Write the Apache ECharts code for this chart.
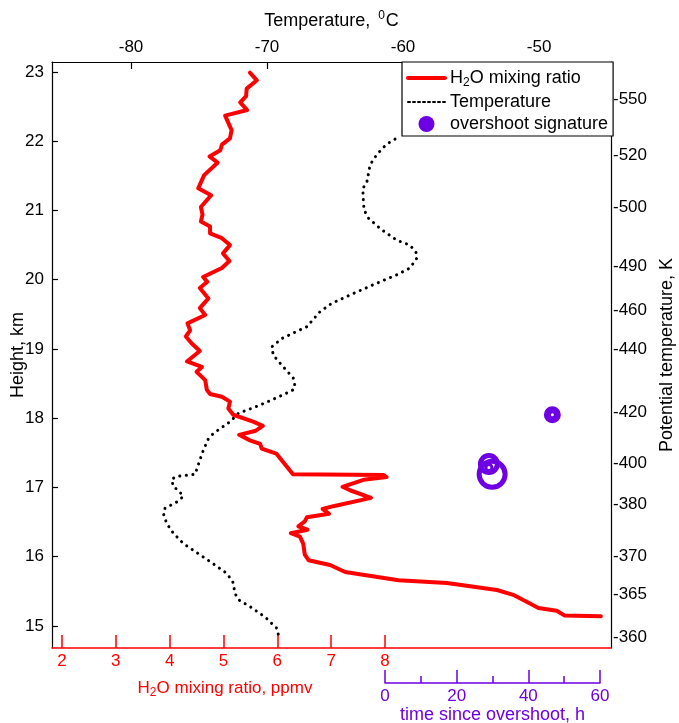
<!DOCTYPE html>
<html>
<head>
<meta charset="utf-8">
<script src="https://cdn.jsdelivr.net/npm/echarts@6/dist/echarts.min.js"></script>
<style>
html,body{margin:0;padding:0;background:#fff;}
#chart{width:679px;height:723px;}
</style>
</head>
<body>
<div id="chart"></div>
<script>
// ---------------- data ----------------
var h2oHeight = [22.99, 22.88, 22.76, 22.65, 22.56, 22.45, 22.37, 22.16, 22.04, 21.95, 21.87, 21.78, 21.69, 21.51, 21.32, 21.22, 21.05, 20.94, 20.84, 20.77, 20.67, 20.60, 20.50, 20.38, 20.27, 20.17, 20.04, 19.97, 19.88, 19.73, 19.59, 19.49, 19.37, 19.27, 19.18, 19.08, 18.97, 18.82, 18.74, 18.67, 18.55, 18.41, 18.35, 18.31, 18.24, 18.14, 18.05, 17.95, 17.89, 17.82, 17.76, 17.68, 17.63, 17.56, 17.49, 17.19, 17.18, 17.15, 17.11, 17.01, 16.96, 16.85, 16.73, 16.69, 16.62, 16.57, 16.51, 16.44, 16.39, 16.34, 16.29, 16.19, 16.03, 15.95, 15.88, 15.78, 15.66, 15.62, 15.52, 15.45, 15.35, 15.26, 15.22, 15.15, 15.14];
var h2oPpmv = [5.49, 5.62, 5.43, 5.42, 5.31, 5.44, 5.03, 5.15, 5.12, 4.97, 4.94, 4.74, 4.89, 4.64, 4.53, 4.77, 4.58, 4.61, 4.58, 4.75, 4.75, 4.97, 5.12, 4.99, 5.11, 4.97, 4.62, 4.70, 4.56, 4.72, 4.56, 4.66, 4.33, 4.38, 4.30, 4.41, 4.56, 4.32, 4.60, 4.50, 4.66, 4.69, 4.75, 4.97, 5.12, 5.09, 5.18, 5.55, 5.73, 5.60, 5.29, 5.49, 5.68, 5.71, 5.98, 6.29, 7.97, 8.03, 7.60, 7.21, 7.35, 7.74, 7.04, 6.84, 6.96, 6.55, 6.51, 6.39, 6.56, 6.25, 6.42, 6.48, 6.51, 6.58, 6.98, 7.26, 8.25, 9.15, 10.08, 10.38, 10.63, 10.85, 11.19, 11.34, 12.01];

var tempHeight = [22.03, 21.98, 21.91, 21.83, 21.74, 21.65, 21.40, 21.32, 21.15, 21.01, 20.89, 20.74, 20.57, 20.50, 20.38, 20.31, 20.17, 20.07, 19.97, 19.78, 19.66, 19.54, 19.32, 19.23, 19.15, 19.03, 18.91, 18.74, 18.58, 18.46, 18.41, 18.34, 18.19, 18.07, 17.95, 17.78, 17.70, 17.54, 17.40, 17.19, 17.16, 17.12, 17.01, 16.96, 16.87, 16.79, 16.70, 16.63, 16.48, 16.34, 16.19, 16.06, 15.93, 15.76, 15.64, 15.47, 15.38, 15.28, 15.13, 14.97, 14.84];
var tempC = [-60.59, -61.01, -61.45, -61.82, -62.18, -62.43, -62.67, -62.96, -62.92, -62.87, -62.55, -61.69, -60.46, -59.49, -58.99, -58.99, -59.49, -60.46, -61.69, -63.90, -65.24, -66.10, -67.08, -68.07, -68.92, -69.65, -69.54, -68.80, -68.07, -67.94, -68.07, -68.80, -70.51, -72.11, -72.72, -73.95, -74.32, -74.68, -74.93, -75.29, -76.64, -77.01, -76.89, -76.52, -76.15, -76.64, -77.50, -77.63, -77.38, -76.89, -76.15, -75.17, -74.19, -72.96, -72.52, -72.35, -72.11, -71.25, -70.15, -69.29, -69.12];

var overshootTime = [46.7, 29.9, 29.0, 29.0];
var overshootHeight = [18.05, 17.19, 17.34, 17.29];

var heightTicks = [15, 16, 17, 18, 19, 20, 21, 22, 23];
var tempTicks = [-80, -70, -60, -50];
var h2oTicks = [2, 3, 4, 5, 6, 7, 8];
var thetaLabels = ['-550', '-520', '-500', '-490', '-460', '-440', '-420', '-400', '-380', '-370', '-365', '-360'];
var thetaHeights = [22.61, 21.79, 21.05, 20.20, 19.56, 18.99, 18.09, 17.35, 16.75, 16.00, 15.46, 14.84];

// ---------------- layout / style ----------------
var FONT = 'Liberation Sans, Arial, sans-serif';
var PURPLE = '#6e00e4';
var RED = '#ff0000';
var H_MIN = 14.682, H_MAX = 23.144;
var T_MIN = -85.81, T_MAX = -44.71;
var W_MIN = 1.814, W_MAX = 12.198;
var S_MIN = -92.94, S_MAX = 63.07;
var TICK_FS = 17, TITLE_FS = 18;
var markerStyle = [
  {size: 10, border: 7},
  {size: 26, border: 5},
  {size: 17, border: 5},
  {size: 6, border: 3}
];

function zip(a, b) { return a.map(function (v, i) { return [v, b[i]]; }); }

var chart = echarts.init(document.getElementById('chart'), null, {renderer: 'canvas'});

var option = {
  animation: false,
  backgroundColor: '#fff',
  textStyle: {fontFamily: FONT},
  grid: [
    {left: 52, top: 62, width: 559, height: 586, containLabel: false, outerBoundsMode: 'none'},
    {left: 385, top: 682, width: 215, height: 1, containLabel: false, outerBoundsMode: 'none'}
  ],
  legend: {
    left: 402, top: 62,
    orient: 'vertical',
    backgroundColor: '#fff',
    borderColor: '#000',
    borderWidth: 1.2,
    padding: [7, 5, 3, 4],
    itemWidth: 37, itemHeight: 16, itemGap: 4,
    selectedMode: false,
    textStyle: {
      fontFamily: FONT, fontSize: TITLE_FS, color: '#000',
      rich: {
        n: {fontFamily: FONT, fontSize: TITLE_FS, color: '#000'},
        s: {fontFamily: FONT, fontSize: 12, color: '#000', padding: [10, 0, 0, 0]}
      }
    },
    formatter: function (name) {
      if (name === 'H2O mixing ratio') return '{n|H}{s|2}{n|O mixing ratio}';
      return name;
    },
    data: [
      {name: 'H2O mixing ratio', lineStyle: {width: 4, color: RED, cap: 'round'}, itemStyle: {color: 'rgba(0,0,0,0)', borderWidth: 0, opacity: 0}},
      {name: 'Temperature', lineStyle: {width: 2, type: [2, 3], color: '#000'}, itemStyle: {color: 'rgba(0,0,0,0)', borderWidth: 0, opacity: 0}},
      {name: 'overshoot signature', icon: 'circle', itemStyle: {color: PURPLE, borderWidth: 0, opacity: 1}}
    ]
  },
  xAxis: [
    { // temperature (top)
      type: 'value', gridIndex: 0, position: 'top',
      min: T_MIN, max: T_MAX,
      name: '{a|Temperature, }{b|0}{a|C}',
      nameLocation: 'middle', nameGap: 30,
      nameTextStyle: {
        rich: {
          a: {fontFamily: FONT, fontSize: TITLE_FS, color: '#000'},
          b: {fontFamily: FONT, fontSize: 12, color: '#000', padding: [0, 1, 10, 3]}
        }
      },
      axisLine: {show: true, onZero: false, lineStyle: {color: '#000', width: 1.2}},
      axisTick: {show: true, inside: true, length: 7, customValues: tempTicks, lineStyle: {color: '#000', width: 1.2}},
      axisLabel: {show: true, customValues: tempTicks, margin: 6, fontSize: TICK_FS, color: '#000', fontFamily: FONT},
      splitLine: {show: false}
    },
    { // H2O (bottom)
      type: 'value', gridIndex: 0, position: 'bottom',
      min: W_MIN, max: W_MAX,
      axisLine: {show: true, onZero: false, lineStyle: {color: RED, width: 1.5}},
      axisTick: {show: true, inside: true, length: 13, customValues: h2oTicks, lineStyle: {color: RED, width: 1.5}},
      axisLabel: {show: true, customValues: h2oTicks, margin: 5, fontSize: TICK_FS, color: RED, fontFamily: FONT},
      splitLine: {show: false}
    },
    { // time (hidden, data mapping in main grid)
      type: 'value', gridIndex: 0, position: 'bottom', show: false,
      min: S_MIN, max: S_MAX
    },
    { // time (visible axis)
      type: 'value', gridIndex: 1, position: 'bottom',
      min: 0, max: 60, interval: 20,
      name: 'time since overshoot, h',
      nameLocation: 'middle', nameGap: 23,
      nameTextStyle: {fontFamily: FONT, fontSize: TITLE_FS, color: PURPLE},
      axisLine: {show: true, onZero: false, lineStyle: {color: PURPLE, width: 1.5}},
      axisTick: {show: true, inside: true, length: 13, lineStyle: {color: PURPLE, width: 1.5}},
      minorTick: {show: true, splitNumber: 2, length: 7, lineStyle: {color: PURPLE, width: 1.5}},
      axisLabel: {show: true, margin: 5, fontSize: TICK_FS, color: PURPLE, fontFamily: FONT},
      splitLine: {show: false}
    }
  ],
  yAxis: [
    { // height (left)
      type: 'value', gridIndex: 0, position: 'left',
      min: H_MIN, max: H_MAX,
      name: 'Height, km', nameLocation: 'middle', nameGap: 25, nameRotate: 90,
      nameMoveOverlap: false,
      nameTextStyle: {fontFamily: FONT, fontSize: TITLE_FS, color: '#000'},
      axisLine: {show: true, onZero: false, lineStyle: {color: '#000', width: 1.2}},
      axisTick: {show: true, inside: true, length: 6, customValues: heightTicks, lineStyle: {color: '#000', width: 1.2}},
      axisLabel: {show: true, customValues: heightTicks, margin: 8, fontSize: TICK_FS, color: '#000', fontFamily: FONT},
      splitLine: {show: false}
    },
    { // potential temperature (right)
      type: 'value', gridIndex: 0, position: 'right',
      min: H_MIN, max: H_MAX,
      name: 'Potential temperature, K', nameLocation: 'middle', nameGap: 47, nameRotate: 90,
      nameMoveOverlap: false,
      nameTextStyle: {fontFamily: FONT, fontSize: TITLE_FS, color: '#000'},
      axisLine: {show: true, onZero: false, lineStyle: {color: '#000', width: 1.2}},
      axisTick: {show: false},
      axisLabel: {
        show: true, customValues: thetaHeights, margin: 2, fontSize: TICK_FS, color: '#000', fontFamily: FONT,
        formatter: function (v) {
          var best = 0, bd = 1e9;
          for (var i = 0; i < thetaHeights.length; i++) {
            var d = Math.abs(thetaHeights[i] - v);
            if (d < bd) { bd = d; best = i; }
          }
          return thetaLabels[best];
        }
      },
      splitLine: {show: false}
    },
    {
      type: 'value', gridIndex: 1, show: false, min: 0, max: 1
    }
  ],
  graphic: [
    {
      type: 'text',
      x: 225, y: 688,
      style: {
        text: '{a|H}{s|2}{a|O mixing ratio, ppmv}',
        align: 'center', verticalAlign: 'middle',
        rich: {
          a: {fontFamily: FONT, fontSize: TICK_FS, fill: RED, color: RED},
          s: {fontFamily: FONT, fontSize: 12, fill: RED, color: RED, padding: [10, 0, 0, 0]}
        }
      }
    }
  ],
  series: [
    {
      name: 'H2O mixing ratio',
      type: 'line',
      xAxisIndex: 1, yAxisIndex: 0,
      data: zip(h2oPpmv, h2oHeight),
      symbol: 'none', showSymbol: false,
      clip: false,
      lineStyle: {color: RED, width: 4, join: 'round', cap: 'round'},
      itemStyle: {color: RED},
      z: 3
    },
    {
      name: 'Temperature',
      type: 'line',
      xAxisIndex: 0, yAxisIndex: 0,
      data: zip(tempC, tempHeight),
      symbol: 'none', showSymbol: false,
      clip: false,
      lineStyle: {color: '#000', width: 3, type: [0.1, 6.5], cap: 'round'},
      itemStyle: {color: '#000'},
      z: 2
    },
    {
      name: 'overshoot signature',
      type: 'scatter',
      xAxisIndex: 2, yAxisIndex: 0,
      data: overshootTime.map(function (t, i) {
        return {
          value: [t, overshootHeight[i]],
          symbolSize: markerStyle[i].size,
          itemStyle: {color: 'rgba(0,0,0,0)', borderColor: PURPLE, borderWidth: markerStyle[i].border, opacity: 1}
        };
      }),
      symbol: 'circle',
      itemStyle: {color: PURPLE, opacity: 1},
      z: 4
    }
  ]
};

chart.setOption(option);
</script>
</body>
</html>
